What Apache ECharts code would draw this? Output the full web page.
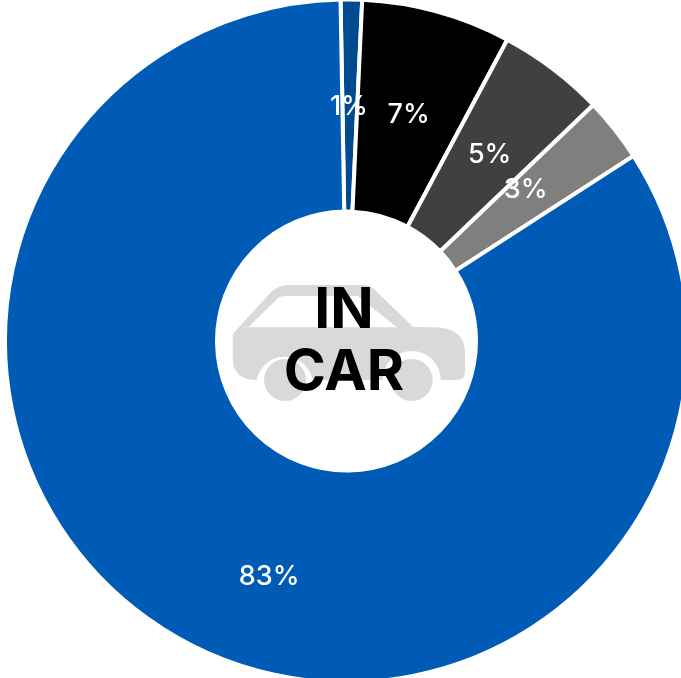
<!DOCTYPE html>
<html>
<head>
<meta charset="utf-8">
<style>html,body{margin:0;padding:0;background:#fff}#chart{width:681px;height:678px}</style>
<script src="https://cdn.jsdelivr.net/npm/echarts@6/dist/echarts.min.js"></script>
</head>
<body>
<div id="chart"></div>
<script>
const categories = ['Segment A', 'Segment B', 'Segment C', 'Segment D', 'Segment E'];
const shares = [1, 7, 5, 3, 83];
const sliceColors = ['#004a8f', '#000000', '#404040', '#7f7f7f', '#005bb7'];
const centerLines = ['IN', 'CAR'];

const carBody = 'M232.7 334 L268.3 295 Q277 285 288 285 L363.3 285 Q371 285 376.7 291.7 L413.3 327 L436.7 327.3 Q465 329 465 353 L465 371.7 Q465 380 456.7 380 L440.7 380 A29 29 0 0 0 382.7 380 L312.7 380 A28.5 28.5 0 0 0 256.7 380 Q232.7 380 232.7 358 Z';
const carWindow = 'M248.3 327.3 L277 299 Q280 296 285 296 L358 296 L396.7 327.3 Z';
const wheel = cx => `M${cx - 21} 380 A21 21 0 1 0 ${cx + 21} 380 A21 21 0 1 0 ${cx - 21} 380 Z`;

const chart = echarts.init(document.getElementById('chart'), null, { renderer: 'canvas' });
chart.setOption({
  animation: false,
  series: [{
    type: 'pie',
    center: [346.5, 341],
    radius: [129.5, 341.5],
    startAngle: 91,
    clockwise: true,
    avoidLabelOverlap: false,
    data: categories.map((name, i) => ({
      name,
      value: shares[i],
      itemStyle: { color: sliceColors[i] },
      label: i === 4 ? { offset: [35, 25] } : (i === 3 ? { offset: [-8, -3] } : {})
    })),
    itemStyle: { borderColor: '#fff', borderWidth: 4 },
    label: {
      show: true,
      position: 'inside',
      formatter: p => p.value + '%',
      color: '#fff',
      fontFamily: 'Inter',
      fontSize: 27,
      fontWeight: 500,
      offset: [-1, 4]
    },
    labelLine: { show: false },
    emphasis: { disabled: true }
  }, {
    // Car icon behind the centre caption
    type: 'custom',
    coordinateSystem: 'none',
    silent: true,
    z: 5,
    data: [0],
    renderItem: () => ({
      type: 'group',
      children: [
        { type: 'path', shape: { pathData: carBody }, style: { fill: '#d9d9d9' } },
        { type: 'path', shape: { pathData: carWindow }, style: { fill: '#fff' } },
        { type: 'path', shape: { pathData: wheel(285) + wheel(411.7) }, style: { fill: '#d9d9d9' } }
      ]
    })
  }],
  graphic: centerLines.map((line, i) => ({
    type: 'text', z: 11,
    x: 344, y: 311 + i * 62,
    style: { text: line, fill: '#000', font: '700 57px Inter', textAlign: 'center', textVerticalAlign: 'middle' }
  }))
});
</script>
</body>
</html>
